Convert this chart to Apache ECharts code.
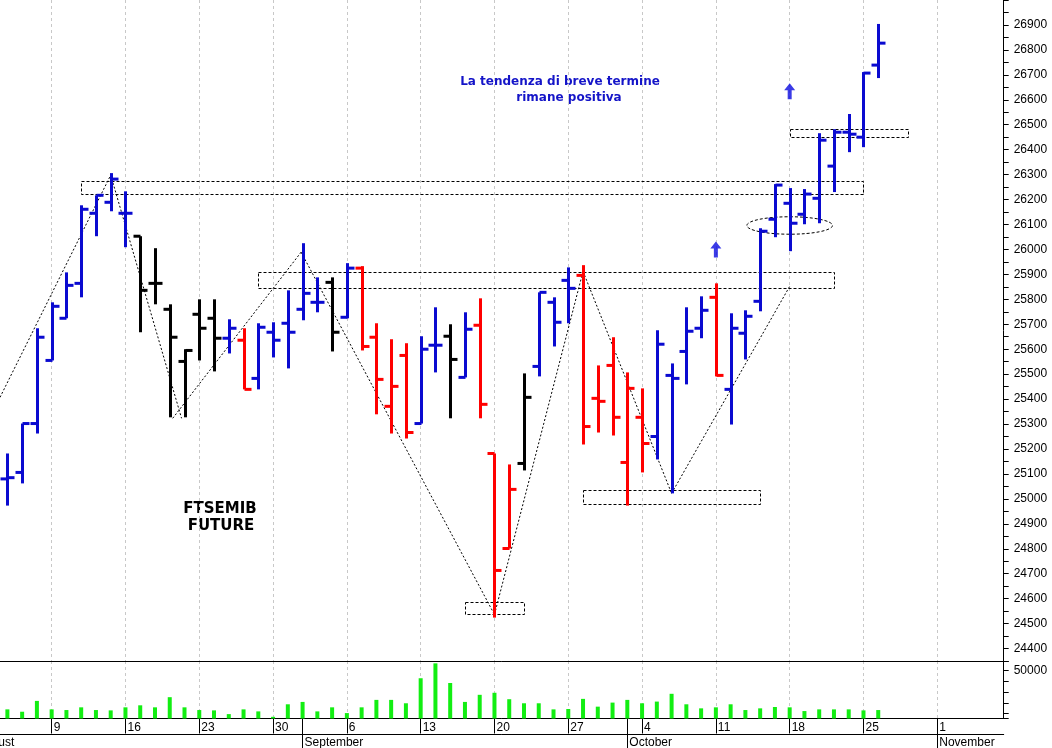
<!DOCTYPE html>
<html><head><meta charset="utf-8">
<script src="https://cdn.jsdelivr.net/npm/echarts@6/dist/echarts.min.js"></script>
<style>html,body{margin:0;padding:0;background:#fff}#c{width:1052px;height:748px}</style>
</head><body><div id="c"></div>
<script>
// ---- categories: trading days shown on the axis ----
const dates = [
 '2021-08-04','2021-08-05','2021-08-06',
 '2021-08-09','2021-08-10','2021-08-11','2021-08-12','2021-08-13',
 '2021-08-16','2021-08-17','2021-08-18','2021-08-19','2021-08-20',
 '2021-08-23','2021-08-24','2021-08-25','2021-08-26','2021-08-27',
 '2021-08-30','2021-08-31','2021-09-01','2021-09-02','2021-09-03',
 '2021-09-06','2021-09-07','2021-09-08','2021-09-09','2021-09-10',
 '2021-09-13','2021-09-14','2021-09-15','2021-09-16','2021-09-17',
 '2021-09-20','2021-09-21','2021-09-22','2021-09-23','2021-09-24',
 '2021-09-27','2021-09-28','2021-09-29','2021-09-30','2021-10-01',
 '2021-10-04','2021-10-05','2021-10-06','2021-10-07','2021-10-08',
 '2021-10-11','2021-10-12','2021-10-13','2021-10-14','2021-10-15',
 '2021-10-18','2021-10-19','2021-10-20','2021-10-21','2021-10-22',
 '2021-10-25','2021-10-26','2021-10-27','2021-10-28','2021-10-29',
 '2021-11-01','2021-11-02','2021-11-03','2021-11-04','2021-11-05'
];
const monthNames = ['January','February','March','April','May','June','July','August','September','October','November','December'];

// ---- OHLC series (first 60 trading days) ----
const open = [25080,25106,25302,25555,25724,25864,26145,26189,26145,26053,25864,25760,25551,25740,25724,25644,25636,25483,25668,25704,25760,25788,25868,25728,25925,25648,25371,25575,25302,25616,25652,25487,25696,25182,24801,25142,25531,25788,25876,25896,25403,25535,25146,25327,25250,25495,25591,25684,25808,25439,25664,25792,26121,26185,26141,26205,26334,26470,26450,26739];
const high = [25182,25302,25684,25788,25908,26177,26217,26306,26233,26053,26005,25780,25600,25800,25800,25720,25684,25704,25708,25836,26025,25888,25888,25945,25933,25704,25640,25624,25652,25768,25700,25748,25804,25182,25138,25503,25828,25808,25928,25937,25535,25648,25507,25443,25676,25543,25768,25812,25864,25744,25756,26085,26262,26246,26242,26466,26482,26543,26711,26904];
const low = [24973,25062,25262,25555,25724,25808,26053,26153,26009,25668,25780,25327,25327,25555,25511,25583,25439,25439,25567,25523,25716,25748,25591,25724,25595,25339,25262,25242,25302,25507,25323,25487,25323,24524,24801,25114,25491,25611,25704,25218,25266,25254,24973,25106,25158,25022,25459,25644,25491,25298,25559,25752,26049,25993,26101,26105,26230,26390,26410,26687];
const close = [25085,25302,25648,25772,25856,26161,26217,26282,26145,25836,25864,25648,25595,25684,25644,25684,25439,25688,25636,25668,25824,25788,25668,25925,25611,25479,25451,25266,25600,25616,25559,25680,25379,24713,25038,25407,25828,25708,25844,25290,25391,25327,25443,25222,25620,25483,25672,25756,25495,25684,25732,26073,26258,26105,26222,26438,26470,26462,26707,26827];
const trend = ['up','up','up','up','up','up','up','up','up',
 'flat','flat','flat','flat','flat','flat',
 'up','down','up','up','up','up','up','flat','up',
 'down','down','down','down','up','up','flat','up',
 'down','down','down','flat','up','up','up',
 'down','down','down','down','down','up','up','up','up','down',
 'up','up','up','up','up','up','up','up','up','up','up'];
const volume = [13830,11620,21730,13830,13200,15730,13200,12880,15730,17620,
 15730,25210,15730,13200,12880,9410,13830,11940,6880,18570,
 20780,11940,15730,10360,15730,22680,22680,19520,42900,56810,
 38480,20780,27420,29320,23310,19520,19520,13830,14150,23630,
 16360,20150,22680,19520,21100,28370,18570,14780,15730,18570,
 13200,14780,16040,15730,12250,13830,13830,13830,12880,13200];

// ---- annotations (category index, value) ----
const boxes = [[5,58,26224,26275],[17,56,25847,25910],[39,51,24976,25034],[31,35,24535,24585],[53,61,26447,26481]];
const swingLines = [[-0.5,25407,7,26298],[7,26298,11.8,25323],[11.2,25323,19.9,25989],[19.9,25989,33,24536],[33,24536,39,25912],[39,25912,45,25022],[45,25022,53,25852]];
const ellipseMark = [53,26096,2.9,35];
const arrowPoints = [['2021-10-11',26000],['2021-10-18',26634]];

const trendColor = {up:'#0a0ad0', down:'#ff0000', flat:'#000000'};
const FONT = 'Liberation Sans';
const isMonday = (i, v) => new Date(v + 'T12:00:00').getDay() === 1;
const isMonthStart = (i, v) => i > 0 && v.slice(5,7) !== dates[i-1].slice(5,7);
const gridDash = {color:'#c8c8c8', type:[3,3], width:1};

function pt(api, idx, val){
  const base = Math.max(0, Math.floor(idx));
  const p = api.coord([base, val]);
  const bw = api.size([1,0])[0];
  return [p[0] + (idx - base) * bw, p[1]];
}

const chart = echarts.init(document.getElementById('c'), null, {renderer:'canvas'});
chart.setOption({
  animation:false,
  backgroundColor:'#fff',
  grid:[
    {left:0, right:48.3, top:0, height:661, containLabel:false, outerBoundsMode:'none'},
    {left:0, right:48.3, top:661, height:57.5, containLabel:false, outerBoundsMode:'none'}
  ],
  xAxis:[
    {gridIndex:0, type:'category', data:dates, boundaryGap:true,
     axisLine:{show:true, lineStyle:{color:'#000', width:1}}, axisTick:{show:false}, axisLabel:{show:false},
     splitLine:{show:true, interval:isMonday, alignWithLabel:true, lineStyle:gridDash}},
    {gridIndex:1, type:'category', data:dates, boundaryGap:true, position:'bottom',
     axisLine:{show:true, lineStyle:{color:'#000', width:1}},
     axisTick:{show:true, interval:isMonday, alignWithLabel:true, length:15, lineStyle:{color:'#000'}},
     axisLabel:{show:true, interval:isMonday, align:'left', margin:3, padding:[0,0,0,2],
       formatter:v => String(parseInt(v.slice(8,10),10)), color:'#000', fontFamily:FONT, fontSize:12},
     splitLine:{show:true, interval:isMonday, alignWithLabel:true, lineStyle:gridDash}},
    {gridIndex:1, type:'category', data:dates, boundaryGap:true, position:'bottom', offset:0,
     axisLine:{show:false},
     axisTick:{show:true, interval:isMonthStart, alignWithLabel:true, length:30, lineStyle:{color:'#000'}},
     axisLabel:{show:true, interval:isMonthStart, align:'left', margin:18, padding:[0,0,0,2],
       formatter:v => monthNames[parseInt(v.slice(5,7),10)-1], color:'#000', fontFamily:FONT, fontSize:12},
     splitLine:{show:false}},
    {gridIndex:1, type:'category', data:dates, boundaryGap:true, position:'bottom', offset:16,
     axisLine:{show:true, lineStyle:{color:'#000', width:1}}, axisTick:{show:false}, axisLabel:{show:false}, splitLine:{show:false}}
  ],
  yAxis:[
    {gridIndex:0, type:'value', position:'right', min:24350, max:27000, interval:50, scale:true,
     axisLine:{show:true, lineStyle:{color:'#000'}}, axisTick:{show:true, length:5, lineStyle:{color:'#000'}},
     axisLabel:{show:true, margin:10, color:'#000', fontFamily:FONT, fontSize:12,
       formatter:v => (v % 100 === 0 && v >= 24400 && v <= 26900) ? String(v) : ''},
     splitLine:{show:false}},
    {gridIndex:1, type:'value', position:'right', min:5300, max:59000, splitNumber:5,
     axisLine:{show:true, lineStyle:{color:'#000'}}, axisTick:{show:true, length:5, lineStyle:{color:'#000'}},
     axisLabel:{show:true, margin:10, color:'#000', fontFamily:FONT, fontSize:12,
       formatter:v => v === 50000 ? '50000' : ''},
     splitLine:{show:false}}
  ],
  series:[
    {type:'custom', name:'annotations', xAxisIndex:0, yAxisIndex:0, data:[[0, 25000]], z:1, silent:true,
     renderItem:function(params, api){
       const children = [];
       const dash = {stroke:'#000', lineWidth:1, lineDash:[3,2], fill:null};
       boxes.forEach(b => {
         const p0 = pt(api, b[0], b[3]);
         const p1 = pt(api, b[1], b[2]);
         children.push({type:'rect', shape:{x:Math.round(p0[0])+0.5, y:Math.round(p0[1])+0.5, width:Math.round(p1[0]-p0[0]), height:Math.round(p1[1]-p0[1])}, style:dash});
       });
       swingLines.forEach(s => {
         const a = pt(api, s[0], s[1]);
         const b = pt(api, s[2], s[3]);
         children.push({type:'line', shape:{x1:a[0], y1:a[1], x2:b[0], y2:b[1]}, style:{stroke:'#000', lineWidth:1, lineDash:[2,2]}});
       });
       const c = pt(api, ellipseMark[0], ellipseMark[1]);
       const rx = ellipseMark[2] * api.size([1,0])[0];
       const ry = Math.abs(api.size([0, ellipseMark[3]])[1]);
       children.push({type:'ellipse', shape:{cx:c[0], cy:c[1], rx:rx, ry:ry}, style:dash});
       return {type:'group', children:children};
     }},
    {type:'bar', name:'volume', xAxisIndex:1, yAxisIndex:1, data:volume, barWidth:4,
     itemStyle:{color:'#12ee12'}, z:2, silent:true},
    {type:'custom', name:'FTSEMIB', xAxisIndex:0, yAxisIndex:0, z:3, silent:true,
     data:open.map((o,i) => [dates[i], o, close[i], low[i], high[i]]),
     encode:{x:0, y:[1,2,3,4]},
     renderItem:function(params, api){
       const idx = api.value(0);
       const x = Math.round(api.coord([idx, 0])[0]) + 0.5;
       const yo = api.coord([idx, api.value(1)])[1];
       const yc = api.coord([idx, api.value(2)])[1];
       const yl = api.coord([idx, api.value(3)])[1];
       const yh = api.coord([idx, api.value(4)])[1];
       const st = {stroke:trendColor[trend[params.dataIndex]], lineWidth:3};
       return {type:'group', children:[
         {type:'line', shape:{x1:x, y1:yh, x2:x, y2:yl}, style:st},
         {type:'line', shape:{x1:x-7, y1:yo, x2:x, y2:yo}, style:st},
         {type:'line', shape:{x1:x, y1:yc, x2:x+7, y2:yc}, style:st}
       ]};
     }},
    {type:'scatter', name:'signals', xAxisIndex:0, yAxisIndex:0, data:arrowPoints, z:4, silent:true,
     symbol:'path://M5.5,0 L11,7 L7.5,7 L7.5,16 L3.5,16 L3.5,7 L0,7 Z', symbolSize:[11,16],
     itemStyle:{color:'#0a0ae0'}}
  ],
  graphic:[
    {type:'text', x:560, y:82, silent:true, style:{text:'La tendenza di breve termine', font:'bold 12px "DejaVu Sans"', fill:'#1414c8', align:'center', verticalAlign:'middle'}},
    {type:'text', x:569, y:98, silent:true, style:{text:'rimane positiva', font:'bold 12px "DejaVu Sans"', fill:'#1414c8', align:'center', verticalAlign:'middle'}},
    {type:'text', x:220, y:509, silent:true, style:{text:'FTSEMIB', font:'bold 15px "DejaVu Sans"', fill:'#000', align:'center', verticalAlign:'middle'}},
    {type:'text', x:221, y:526, silent:true, style:{text:'FUTURE', font:'bold 15px "DejaVu Sans"', fill:'#000', align:'center', verticalAlign:'middle'}},
    {type:'text', x:-23, y:743, silent:true, style:{text:'August', font:'12px "Liberation Sans"', fill:'#000', align:'left', verticalAlign:'middle'}}
  ]
});
</script></body></html>
